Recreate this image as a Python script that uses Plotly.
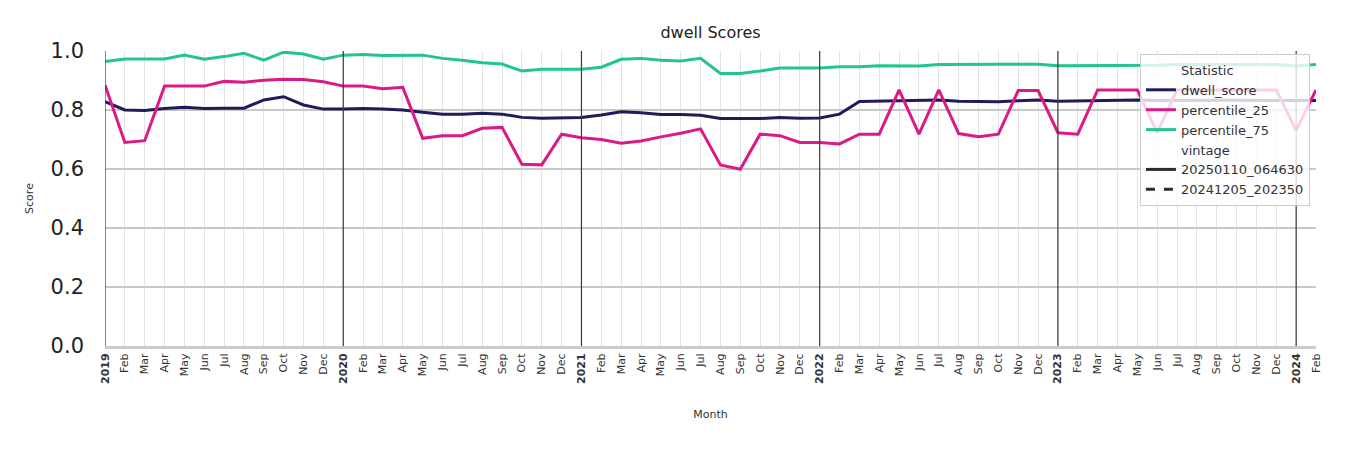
import plotly.graph_objects as go

years = [2019, 2020, 2021, 2022, 2023, 2024]
month_names = ["Jan", "Feb", "Mar", "Apr", "May", "Jun", "Jul", "Aug", "Sep", "Oct", "Nov", "Dec"]
months = [f"{y}-{m:02d}" for y in years for m in range(1, 13)][:62]
tick_labels = [f"<b>{m[:4]}</b>" if m.endswith("-01") else month_names[int(m[5:]) - 1] for m in months]

dwell_score = [0.828, 0.800, 0.798, 0.805, 0.809, 0.805, 0.806, 0.806, 0.834, 0.845, 0.817, 0.803,
               0.803, 0.805, 0.803, 0.800, 0.792, 0.786, 0.786, 0.789, 0.786, 0.775, 0.772, 0.773,
               0.775, 0.783, 0.794, 0.791, 0.785, 0.785, 0.782, 0.771, 0.770, 0.771, 0.775, 0.772,
               0.773, 0.786, 0.829, 0.830, 0.833, 0.832, 0.834, 0.830, 0.828, 0.828, 0.831, 0.834,
               0.830, 0.831, 0.834, 0.834, 0.834, 0.832, 0.833, 0.833, 0.833, 0.833, 0.833, 0.833,
               0.832, 0.832]
percentile_25 = [0.885, 0.690, 0.696, 0.881, 0.881, 0.881, 0.897, 0.894, 0.901, 0.904, 0.903, 0.896,
                 0.881, 0.881, 0.872, 0.877, 0.704, 0.713, 0.713, 0.738, 0.741, 0.616, 0.614, 0.718,
                 0.706, 0.700, 0.687, 0.695, 0.709, 0.721, 0.736, 0.614, 0.599, 0.718, 0.713, 0.690,
                 0.690, 0.685, 0.718, 0.718, 0.868, 0.718, 0.868, 0.720, 0.709, 0.718, 0.866, 0.866,
                 0.723, 0.718, 0.868, 0.868, 0.868, 0.723, 0.868, 0.868, 0.868, 0.868, 0.868, 0.868,
                 0.730, 0.868]
percentile_75 = [0.964, 0.973, 0.973, 0.973, 0.986, 0.972, 0.981, 0.992, 0.969, 0.996, 0.990, 0.972,
                 0.986, 0.988, 0.985, 0.986, 0.986, 0.975, 0.969, 0.960, 0.956, 0.932, 0.938, 0.938,
                 0.938, 0.945, 0.972, 0.975, 0.969, 0.966, 0.975, 0.924, 0.924, 0.932, 0.942, 0.942,
                 0.942, 0.947, 0.947, 0.950, 0.950, 0.949, 0.954, 0.955, 0.955, 0.955, 0.955, 0.955,
                 0.950, 0.950, 0.950, 0.950, 0.950, 0.952, 0.954, 0.954, 0.954, 0.954, 0.954, 0.954,
                 0.949, 0.954]

statistics = ["dwell_score", "percentile_25", "percentile_75"]
series = [dwell_score, percentile_25, percentile_75]
colors = ["#1e1d57", "#dc1a87", "#22c48f"]
vintages = ["20250110_064630", "20241205_202350"]
vintage_dash = ["solid", "dash"]

fig = go.Figure()
fig.add_trace(go.Scatter(x=[None], y=[None], mode="lines", name="Statistic",
                         line=dict(color="rgba(0,0,0,0)", width=0)))
for name, vals, col in zip(statistics, series, colors):
    fig.add_trace(go.Scatter(x=months, y=vals, mode="lines", name=name,
                             line=dict(color=col, width=3)))
fig.add_trace(go.Scatter(x=[None], y=[None], mode="lines", name="vintage",
                         line=dict(color="rgba(0,0,0,0)", width=0)))
for v, d in zip(vintages, vintage_dash):
    fig.add_trace(go.Scatter(x=[None], y=[None], mode="lines", name=v,
                             line=dict(color="#2b2b2b", width=3, dash=d)))

for m in months:
    if m.endswith("-01"):
        fig.add_shape(type="line", xref="x", yref="paper", x0=m, x1=m, y0=0, y1=1,
                      line=dict(color="#3a3a3a", width=1.2), layer="above")

fig.update_layout(
    width=1350, height=450,
    margin=dict(l=105, r=34, t=51, b=104),
    paper_bgcolor="white", plot_bgcolor="white",
    font=dict(family="DejaVu Sans", color="#333333"),
    title=dict(text="dwell Scores", x=0.5, xref="paper", xanchor="center",
               y=0.94, yref="container", font=dict(size=16, color="#222222")),
    showlegend=True,
    legend=dict(x=0.995, xanchor="right", y=0.99, yanchor="top",
                bgcolor="rgba(255,255,255,0.8)", bordercolor="#cccccc", borderwidth=1,
                font=dict(size=13, color="#333333"), tracegroupgap=0),
    xaxis=dict(
        type="category", categoryorder="array", categoryarray=months,
        range=[0, len(months) - 1],
        tickmode="array", tickvals=months, ticktext=tick_labels,
        tickangle=-90, tickfont=dict(size=11, color="#333333"),
        showgrid=True, gridcolor="#e3e3e3", gridwidth=1,
        showline=True, linecolor="#cccccc", linewidth=3,
        zeroline=False,
        title=dict(text="Month", font=dict(size=11, color="#333333"), standoff=28),
    ),
    yaxis=dict(
        range=[0, 1.0], tickvals=[0, 0.2, 0.4, 0.6, 0.8, 1.0], tickformat=".1f",
        tickfont=dict(size=21, color="#222222"),
        showgrid=True, gridcolor="#c8c8c8", gridwidth=1.5,
        zeroline=False, showline=False, ticklabelstandoff=20,
        title=dict(text="Score", font=dict(size=11, color="#333333"), standoff=14),
    ),
)

fig.write_html("out.html")
